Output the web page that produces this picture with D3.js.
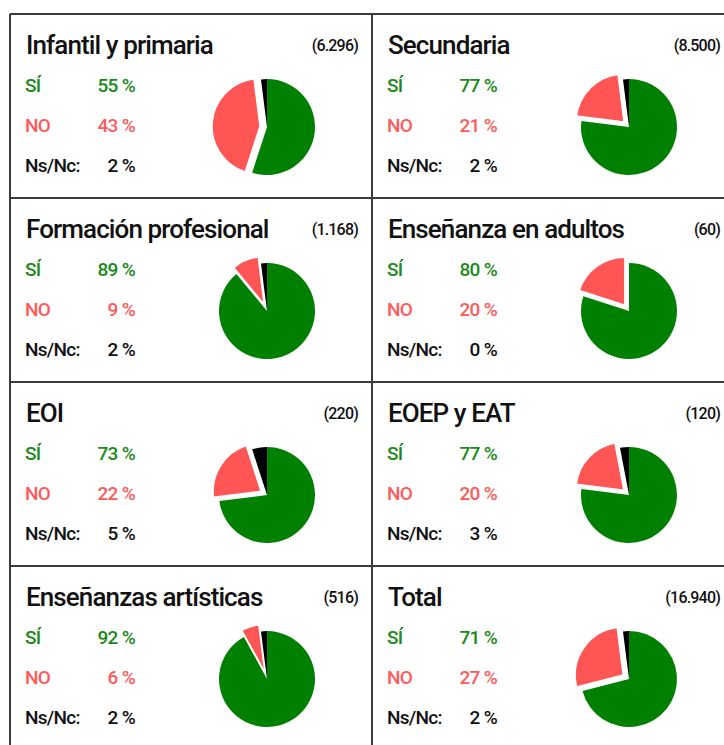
<!DOCTYPE html>
<html>
<head>
<meta charset="utf-8">
<script src="https://cdn.jsdelivr.net/npm/d3@7"></script>
<style>
	body { margin: 0; background: #fff; }
	text { font-family: Roboto, 'Open Sans', sans-serif; }
</style>
</head>
<body>
<div id="chart"></div>
<script>
//data
var categories = ['Infantil y primaria', 'Secundaria', 'Formación profesional', 'Enseñanza en adultos',
                  'EOI', 'EOEP y EAT', 'Enseñanzas artísticas', 'Total']
var counts     = ['(6.296)', '(8.500)', '(1.168)', '(60)', '(220)', '(120)', '(516)', '(16.940)']
var siValues   = [55, 77, 89, 80, 73, 77, 92, 71]
var noValues   = [43, 21,  9, 20, 22, 20,  6, 27]
var nsValues   = [ 2,  2,  2,  0,  5,  3,  2,  2]
var rowLabels  = ['SÍ', 'NO', 'Ns/Nc:']

//globals
var width = 724, height = 745
var cellW = 362, cellH = 184, x0 = 10, y0 = 14
var radius = 48, explode = 7

var pieColors  = ['#008000', '#ff5555', '#000000']
var textColors = ['#1a8a1a', '#ff5a5a', '#111111']

var svg = d3.select('#chart')
			.append('svg')
			.attr('width', width)
			.attr('height', height)

//grid of cells
var col = d3.scaleLinear().domain([0, 1]).range([x0, x0 + cellW])
var row = d3.scaleLinear().domain([0, 1]).range([y0, y0 + cellH])

var grid = svg.append('g')
			  .attr('stroke', '#3a3a3a')
			  .attr('stroke-width', 2)

d3.range(5).forEach(function(r){
	grid.append('line')
		.attr('x1', col(0)).attr('x2', col(2))
		.attr('y1', row(r)).attr('y2', row(r))
})
d3.range(3).forEach(function(c){
	grid.append('line')
		.attr('x1', col(c)).attr('x2', col(c))
		.attr('y1', row(0)).attr('y2', row(4))
})

var pie = d3.pie().sort(null).value(function(d){ return d })
var arc = d3.arc().innerRadius(0).outerRadius(radius)

var cells = svg.selectAll('.cell')
			   .data(categories)
			   .enter()
			   .append('g')
			   .attr('class', 'cell')
			   .attr('transform', function(d, i){ return 'translate(' + col(i % 2) + ',' + row(Math.floor(i / 2)) + ')' })

//title
cells.append('text')
	 .attr('x', 16)
	 .attr('y', 40)
	 .attr('font-size', '26px')
	 .attr('font-weight', 500)
	 .attr('fill', '#111')
	 .style('letter-spacing', '-0.9px')
	 .text(function(d){ return d })

//count
cells.append('text')
	 .attr('x', 348)
	 .attr('y', 37)
	 .attr('text-anchor', 'end')
	 .attr('font-size', '16px')
	 .attr('font-weight', 500)
	 .attr('fill', '#111')
	 .style('letter-spacing', '-0.8px')
	 .text(function(d, i){ return counts[i] })

//rows of values
cells.each(function(d, i){
	var g = d3.select(this)
	var vals = [siValues[i], noValues[i], nsValues[i]]
	rowLabels.forEach(function(lab, k){
		g.append('text')
		 .attr('x', 15)
		 .attr('y', 78 + k * 40)
		 .attr('font-size', '19px')
		 .attr('font-weight', 500)
		 .attr('fill', textColors[k])
		 .style('letter-spacing', '-0.7px')
		 .text(lab)
		g.append('text')
		 .attr('x', 125)
		 .attr('y', 78 + k * 40)
		 .attr('text-anchor', 'end')
		 .attr('font-size', '19px')
		 .attr('font-weight', 500)
		 .attr('fill', textColors[k])
		 .style('letter-spacing', '-0.7px')
		 .text(vals[k] + ' %')
	})

	//pie, NO slice pulled out
	var p = g.append('g')
			 .attr('transform', 'translate(' + 257 + ',' + 113 + ')')
	p.selectAll('path')
	 .data(pie(vals))
	 .enter()
	 .append('path')
	 .attr('d', arc)
	 .attr('fill', function(s, k){ return pieColors[k] })
	 .attr('stroke', function(s, k){ return k == 1 ? '#fff' : 'none' })
	 .attr('stroke-width', 1.5)
	 .attr('transform', function(s, k){
		if (k != 1) return null
		var c = arc.centroid(s), len = Math.sqrt(c[0] * c[0] + c[1] * c[1]) || 1
		return 'translate(' + (c[0] / len * explode) + ',' + (c[1] / len * explode) + ')'
	 })
})
</script>
</body>
</html>
